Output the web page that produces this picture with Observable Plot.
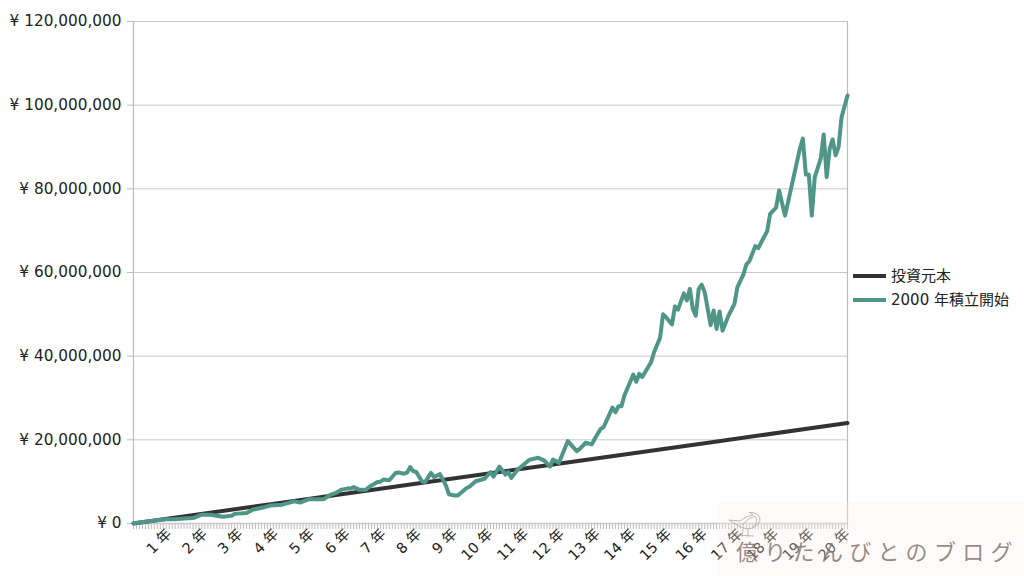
<!DOCTYPE html>
<html><head><meta charset="utf-8">
<script src="https://cdn.jsdelivr.net/npm/d3@7"></script>
<script src="https://cdn.jsdelivr.net/npm/@observablehq/plot@0.6"></script>
<style>
html,body{margin:0;padding:0;background:#fff;width:1024px;height:576px;overflow:hidden;font-family:"DejaVu Sans","Noto Sans CJK JP",sans-serif;}
#chart{position:absolute;left:0;top:0;}
#chart svg{display:block;}
.lg{position:absolute;left:853px;font-size:15px;color:#222;line-height:20px;white-space:nowrap;}
.lg i{display:inline-block;width:33px;height:4px;vertical-align:middle;margin-right:5px;position:relative;top:-1px;}
#wm{position:absolute;left:718px;top:502px;width:306px;height:74px;background:rgba(250,238,234,.3);}
#wm span{position:absolute;left:18px;top:33px;font:22px/30px "Noto Sans CJK JP",sans-serif;letter-spacing:6.3px;color:rgba(130,118,113,.85);white-space:nowrap;}
#wm svg{position:absolute;left:10px;top:10px;}
</style></head><body>
<div id="chart"></div>
<div class="lg" style="top:266px"><i style="background:#333"></i>投資元本</div>
<div class="lg" style="top:290px"><i style="background:#4f9688"></i>2000 年積立開始</div>
<div id="wm"><svg width="36" height="28" viewBox="0 0 36 28" fill="none" stroke="#a89e9a" stroke-width=".7"><path d="M1 8 L12 9 Q18 4 25 3 L21 0 Q33 1 32 9 Q29 16 20 17 Q12 16 9 13Z"/><path d="M14 13 Q20 6 27 4 Q31 10 25 15"/><path d="M15 17 L14 25 M20 17 L20 25 M8 23 L26 24"/></svg><span>億りたんびとのブログ</span></div>
<script>
const greenMonths = [0,4,8,11,14,17,20,23,26,30,33,34,38,40,44,46,50,54,56,59,64,66,68,70,72,73,74,76,78,80,82,83,84,86,88,89,91,92,93,94,95,97,98,100,101,103,105,106,108,109,112,113,115,118,120,121,123,125,126,127,129,131,133,136,138,140,141,143,146,149,150,152,154,155,157,158,161,162,163,164,165,168,169,170,171,174,175,177,178,179,181,182,183,185,186,187,188,189,190,191,192,194,195,196,197,198,200,201,202,203,205,206,207,209,210,213,214,216,217,219,221,222,224,225,226,227,228,229,231,232,233,234,235,236,237,238,240];
const greenValues = [0.05,0.4,0.8,1.0,1.0,1.2,1.3,2.1,2.1,1.6,1.85,2.3,2.5,3.3,3.9,4.3,4.5,5.3,5.0,5.8,5.8,6.8,7.3,8.1,8.4,8.35,8.7,8.05,8.05,9.1,9.9,10.0,10.5,10.35,12.0,12.2,11.9,12.2,13.5,12.5,12.35,10.05,9.9,12.1,11.1,11.8,9.1,7.0,6.7,6.7,8.5,8.85,10.1,10.7,12.3,11.2,13.6,11.7,12.3,10.9,12.8,14.0,15.2,15.7,15.1,13.6,15.3,14.5,19.7,17.3,17.85,19.3,18.9,20.2,22.6,23.0,27.7,26.6,28.0,28.0,30.6,35.6,33.9,35.8,35.0,38.6,41.0,44.4,50.0,49.3,47.6,51.9,51.1,55.0,53.3,56.1,51.3,49.7,56.1,57.1,55.3,47.4,50.9,46.5,50.7,46.1,49.7,51.1,52.5,56.5,59.5,61.9,62.7,66.3,65.8,69.9,74.0,75.5,79.6,73.6,80.0,83.2,89.6,92.0,83.4,83.4,73.6,82.8,87.2,93.0,82.8,89.6,91.8,88.0,90.0,97.1,102.3];
const principalMonths = [0,48,96,144,192,240];
const principalValues = [0,4.8,9.6,14.4,19.2,24];
const yearTicks = [12,24,36,48,60,72,84,96,108,120,132,144,156,168,180,192,204,216,228,240];
const yearLabels = ["1 年","2 年","3 年","4 年","5 年","6 年","7 年","8 年","9 年","10 年","11 年","12 年","13 年","14 年","15 年","16 年","17 年","18 年","19 年","20 年"];
const monthTicks = d3.range(0,241);
const yTicks = [0,20,40,60,80,100,120];

const green = greenMonths.map((m,i)=>({m,v:greenValues[i]*1e6}));
const principal = principalMonths.map((m,i)=>({m,v:principalValues[i]*1e6}));
const F = '"DejaVu Sans","Noto Sans CJK JP",sans-serif';

const plot = Plot.plot({
  width:1024,height:576,
  marginLeft:133,marginRight:177,marginTop:21,marginBottom:53,
  style:{fontFamily:F,background:"transparent",color:"#222"},
  x:{domain:[0,240],label:null},
  y:{domain:[0,120e6],label:null},
  marks:[
    Plot.gridY(yTicks.map(d=>d*1e6),{stroke:"#c8c8c8",strokeOpacity:1,strokeWidth:1}),
    Plot.ruleX([0,240],{stroke:"#bdbdbd",strokeWidth:1.2}),
    Plot.axisX(monthTicks,{tickSize:6,tickFormat:()=>"",stroke:"#bbb",strokeOpacity:1,label:null,strokeWidth:1}),
    Plot.axisX(yearTicks,{tickSize:0,tickPadding:8,tickRotate:-45,fontSize:14.5,fill:"#222",label:null,
      tickFormat:d=>yearLabels[yearTicks.indexOf(d)]}),
    Plot.axisY(yTicks.map(d=>d*1e6),{tickSize:6,tickPadding:6,stroke:"#bdbdbd",fill:"#222",fontSize:15.3,label:null,
      tickFormat:d=>"¥ "+d3.format(",")(d)}),
    Plot.ruleY([0],{stroke:"#c8c8c8",strokeWidth:1.5}),
    Plot.line(principal,{x:"m",y:"v",stroke:"#333",strokeWidth:4}),
    Plot.line(green,{x:"m",y:"v",stroke:"#4f9688",strokeWidth:4,strokeLinejoin:"round"})
  ]
});
document.getElementById("chart").appendChild(plot);
</script>
</body></html>
